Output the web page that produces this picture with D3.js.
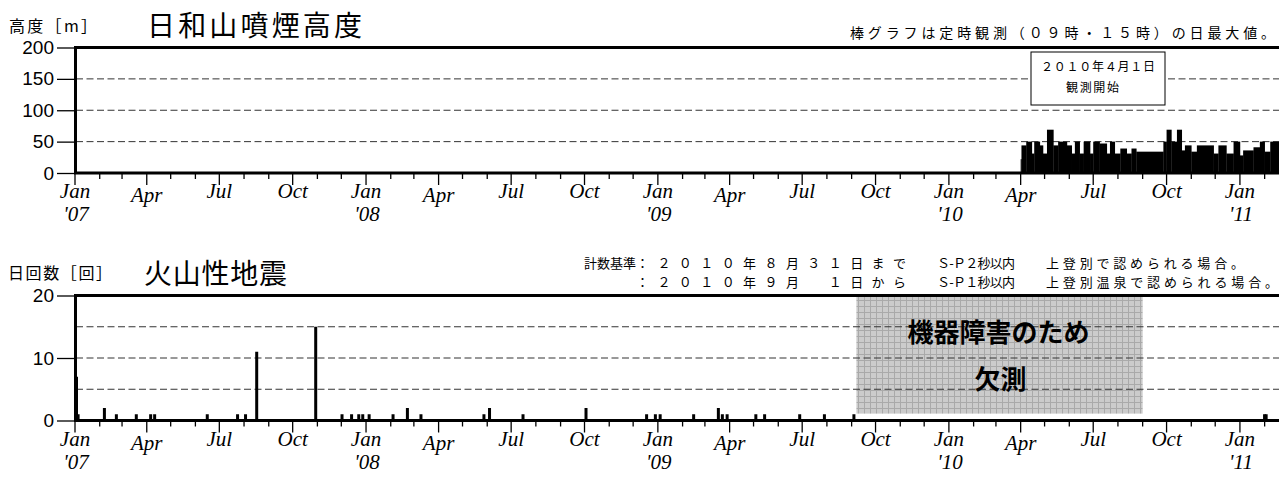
<!DOCTYPE html>
<html>
<head>
<meta charset="utf-8">
<script src="https://cdn.jsdelivr.net/npm/d3@7"></script>
<style>
  body { margin: 0; background: #fff; }
  svg { display: block; }
  .jp { font-family: "Noto Sans CJK JP", sans-serif; }
  .num { font-family: "Liberation Sans", Arial, sans-serif; }
  .mon { font-family: "Liberation Serif", "Times New Roman", serif; font-style: italic; }
</style>
</head>
<body>
<svg id="chart" width="1279" height="477"></svg>
<script>
// plume height (m): runs of daily max, each lasts until the next start
const plumeStart = ['2010-04-01','2010-04-02','2010-04-08','2010-04-15','2010-04-18','2010-04-25','2010-04-29',
  '2010-05-04','2010-05-12','2010-05-18','2010-05-29','2010-06-04','2010-06-08','2010-06-14','2010-06-19',
  '2010-06-27','2010-07-01','2010-07-09','2010-07-18','2010-07-22','2010-07-28','2010-08-04','2010-08-12',
  '2010-08-18','2010-08-24','2010-09-27','2010-10-01','2010-10-07','2010-10-14','2010-10-20','2010-10-24',
  '2010-11-01','2010-11-08','2010-11-29','2010-12-05','2010-12-15','2010-12-24','2011-01-01','2011-01-05',
  '2011-01-18','2011-01-26','2011-02-01','2011-02-08'];
const plumeHeight = [22,44,50,31,50,44,31,
  69,44,50,44,31,50,31,50,
  31,50,47,31,50,31,39,31,
  39,34,50,69,50,69,36,44,
  34,44,31,44,31,50,28,36,
  41,50,34,50];
const lastDay = '2011-02-19';

// volcanic earthquakes per day
const quakeDates = ['2007-01-01','2007-01-03','2007-02-05','2007-02-20','2007-03-17','2007-04-04','2007-04-09',
  '2007-06-14','2007-07-22','2007-08-01','2007-08-15','2007-10-28','2007-11-30','2007-12-12','2007-12-21',
  '2007-12-26','2008-01-03','2008-02-02','2008-02-20','2008-03-08','2008-05-26','2008-06-02','2008-07-14',
  '2008-10-01','2008-12-16','2008-12-27','2009-01-02','2009-02-13','2009-03-16','2009-03-21','2009-03-27',
  '2009-05-02','2009-05-13','2009-06-26','2009-07-27','2009-09-02','2011-01-30','2011-02-01'];
const quakeCounts = [7,1,2,1,1,1,1,
  1,1,1,11,15,1,1,1,
  1,1,1,2,1,1,2,1,
  2,1,1,1,1,2,1,1,
  1,1,1,1,1,1,1];
const missingSpan = ['2009-09-07','2010-09-01'];

const plumeTicks = [0, 50, 100, 150, 200];
const plumeGrid = [50, 100, 150];
const quakeTicks = [0, 10, 20];
const quakeGrid = [5, 10, 15];
const monthLabels = { 0: 'Jan', 3: 'Apr', 6: 'Jul', 9: 'Oct' };

const parse = d3.timeParse('%Y-%m-%d');
const svg = d3.select('#chart');
svg.append('rect').attr('width', 1279).attr('height', 477).attr('fill', '#fff');

const x = d3.scaleTime()
  .domain([parse('2007-01-01'), parse(lastDay)])
  .range([75, 1279]);

// hatched fill for the missing period
const pat = svg.append('defs').append('pattern')
  .attr('id', 'hatch').attr('width', 6).attr('height', 6).attr('patternUnits', 'userSpaceOnUse');
pat.append('rect').attr('width', 6).attr('height', 6).attr('fill', '#cbcbcb');
pat.append('path').attr('d', 'M0,0.5H6M0.5,0V6').attr('stroke', '#a9a9a9').attr('stroke-width', 1);

function panel(y, yTicks, gridVals) {
  const g = svg.append('g');
  const [y0, y1] = y.range();
  // dashed gridlines
  g.selectAll('.grid').data(gridVals).enter().append('line')
    .attr('x1', 76).attr('x2', 1279)
    .attr('y1', d => y(d)).attr('y2', d => y(d))
    .attr('stroke', '#333').attr('stroke-width', 1).attr('stroke-dasharray', '7,3.5');
  // y axis ticks + labels
  g.append('g').attr('transform', 'translate(75,0)')
    .call(d3.axisLeft(y).tickValues(yTicks).tickSize(18).tickPadding(3).tickFormat(d3.format('d')))
    .call(a => a.select('.domain').remove())
    .call(a => a.selectAll('line').attr('stroke', '#000').attr('stroke-width', 1.3))
    .call(a => a.selectAll('text').attr('class', 'num').attr('font-size', 19).attr('fill', '#000'));
  // x axis: monthly ticks, longer at quarters
  const months = d3.timeMonth.range(x.domain()[0], x.domain()[1]);
  g.selectAll('.mt').data(months).enter().append('line')
    .attr('x1', d => x(d)).attr('x2', d => x(d))
    .attr('y1', y0).attr('y2', d => y0 + (d.getMonth() % 3 === 0 ? 12 : 6))
    .attr('stroke', '#000').attr('stroke-width', 1.3);
  const quarters = months.filter(d => d.getMonth() % 3 === 0);
  g.selectAll('.ml').data(quarters).enter().append('text')
    .attr('class', 'mon').attr('font-size', 21).attr('text-anchor', 'middle')
    .attr('x', d => x(d)).attr('y', d => y0 + (d.getMonth() === 3 ? 29 : 25))
    .text(d => monthLabels[d.getMonth()]);
  g.selectAll('.yl').data(quarters.filter(d => d.getMonth() === 0)).enter().append('text')
    .attr('class', 'mon').attr('font-size', 21).attr('text-anchor', 'middle')
    .attr('x', d => x(d) + 1).attr('y', y0 + 48)
    .text(d => "'" + d3.timeFormat('%y')(d));
  return g;
}

function frame(y) {
  const [y0, y1] = y.range();
  svg.append('path')
    .attr('d', `M1279,${y1}H75.5V${y0}H1279`)
    .attr('fill', 'none').attr('stroke', '#000').attr('stroke-width', 3);
}

// ---------- top: plume height ----------
const yTop = d3.scaleLinear().domain([0, 200]).range([173, 47.5]);
panel(yTop, plumeTicks, plumeGrid);

const plumeRuns = plumeStart.map((s, i) => ({
  x0: x(parse(s)),
  x1: x(parse(i + 1 < plumeStart.length ? plumeStart[i + 1] : lastDay)),
  v: plumeHeight[i]
}));
svg.append('g').selectAll('rect').data(plumeRuns).enter().append('rect')
  .attr('x', d => d.x0).attr('width', d => d.x1 - d.x0 + 0.3)
  .attr('y', d => yTop(d.v)).attr('height', d => yTop(0) - yTop(d.v))
  .attr('fill', '#000');
frame(yTop);

// annotation box
svg.append('rect').attr('x', 1031).attr('y', 52).attr('width', 134).attr('height', 53)
  .attr('fill', '#fff').attr('stroke', '#000').attr('stroke-width', 1);
svg.append('text').attr('class', 'jp').attr('x', 1041).attr('y', 71).attr('font-size', 12)
  .attr('textLength', 114).attr('lengthAdjust', 'spacing').text('２０１０年４月１日');
svg.append('text').attr('class', 'jp').attr('x', 1066).attr('y', 92).attr('font-size', 12)
  .attr('textLength', 53).attr('lengthAdjust', 'spacing').text('観測開始');

// top headings
svg.append('text').attr('class', 'jp').attr('x', 9).attr('y', 32).attr('font-size', 16)
  .attr('textLength', 88).attr('lengthAdjust', 'spacing').text('高度［m］');
svg.append('text').attr('class', 'jp').attr('x', 147).attr('y', 36).attr('font-size', 28)
  .attr('textLength', 215).attr('lengthAdjust', 'spacing').text('日和山噴煙高度');
svg.append('text').attr('class', 'jp').attr('x', 850).attr('y', 38).attr('font-size', 14)
  .attr('textLength', 425).attr('lengthAdjust', 'spacing').text('棒グラフは定時観測（０９時・１５時）の日最大値。');

// ---------- bottom: volcanic earthquakes ----------
const yBot = d3.scaleLinear().domain([0, 20]).range([420.5, 295.5]);

// missing-data block goes under the grid
svg.append('rect')
  .attr('x', x(parse(missingSpan[0]))).attr('width', x(parse(missingSpan[1])) - x(parse(missingSpan[0])))
  .attr('y', yBot(19.8)).attr('height', yBot(1.1) - yBot(19.8))
  .attr('fill', 'url(#hatch)');
panel(yBot, quakeTicks, quakeGrid);
const midX = (x(parse(missingSpan[0])) + x(parse(missingSpan[1]))) / 2;
svg.append('text').attr('class', 'jp').attr('x', midX - 1).attr('y', 342).attr('font-size', 26)
  .attr('font-weight', 'bold').attr('text-anchor', 'middle').text('機器障害のため');
svg.append('text').attr('class', 'jp').attr('x', midX + 1).attr('y', 389).attr('font-size', 26)
  .attr('font-weight', 'bold').attr('text-anchor', 'middle').text('欠測');

svg.append('g').selectAll('rect').data(quakeDates.map((d, i) => ({ d: parse(d), v: quakeCounts[i] })))
  .enter().append('rect')
  .attr('x', d => x(d.d)).attr('width', 3)
  .attr('y', d => yBot(d.v)).attr('height', d => yBot(0) - yBot(d.v))
  .attr('fill', '#000');
frame(yBot);

// bottom headings
svg.append('text').attr('class', 'jp').attr('x', 8).attr('y', 279).attr('font-size', 16)
  .attr('textLength', 104).attr('lengthAdjust', 'spacing').text('日回数［回］');
svg.append('text').attr('class', 'jp').attr('x', 144).attr('y', 284).attr('font-size', 28)
  .attr('textLength', 143).attr('lengthAdjust', 'spacing').text('火山性地震');

const note = [
  { x: 584, y: 268, w: null, t: '計数基準' },
  { x: 636, y: 268, w: 270, t: '：２０１０年８月３１日まで' },
  { x: 937, y: 268, w: 78, t: 'Ｓ-Ｐ２秒以内' },
  { x: 1046, y: 268, w: 198, t: '上登別で認められる場合。' },
  { x: 636, y: 287, w: 270, t: '：２０１０年９月　１日から' },
  { x: 937, y: 287, w: 78, t: 'Ｓ-Ｐ１秒以内' },
  { x: 1046, y: 287, w: 232, t: '上登別温泉で認められる場合。' }
];
svg.append('g').selectAll('text').data(note).enter().append('text')
  .attr('class', 'jp').attr('font-size', 13)
  .attr('x', d => d.x).attr('y', d => d.y)
  .each(function (d) {
    if (d.w) d3.select(this).attr('textLength', d.w).attr('lengthAdjust', 'spacing');
  })
  .text(d => d.t);
</script>
</body>
</html>
